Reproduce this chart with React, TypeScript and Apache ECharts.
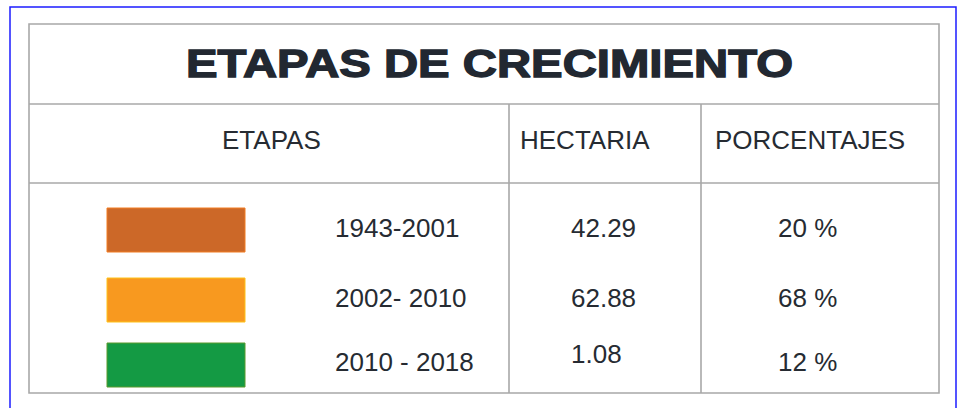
import React, { useEffect, useRef } from "react";
import * as echarts from "echarts";

const title = "ETAPAS DE CRECIMIENTO";
const headers = ["ETAPAS", "HECTARIA", "PORCENTAJES"];
const etapas = ["1943-2001", "2002- 2010", "2010 - 2018"];
const hectaria = ["42.29", "62.88", "1.08"];
const porcentajes = ["20 %", "68 %", "12 %"];
const swatchColors = ["#cc6828", "#f8991f", "#149a44"];
const swatchBorders = ["#f27d22", "#ffc21a", "#5a9a2c"];

// layout
const T = { left: 29, right: 939, top: 24, titleBottom: 104, headBottom: 183, bottom: 393 };
const colX = [509, 701];
const headerX = [222, 520, 715];
const rowY = [227.5, 297.5, 362];
const hectY = [228, 298.3, 354];
const pctY = [228.3, 298, 362];
const swatchY = [208, 278, 343];

export default function App() {
  const ref = useRef<HTMLDivElement>(null);
  useEffect(() => {
    const chart = echarts.init(ref.current!, null, { renderer: "svg" });
    const font = "'Liberation Sans', Arial, sans-serif";
    const textColor = "#262b32";
    const bodyFont = `26px ${font}`;
    const lineStyle = { stroke: "#a8a8a8", lineWidth: 1.6 };
    const els: any[] = [];
    // outer blue frame
    els.push({ type: "rect", shape: { x: 10, y: 7, width: 946, height: 420 }, style: { fill: "#fff", stroke: "#1c1cff", lineWidth: 1.5 } });
    // table border
    els.push({ type: "rect", shape: { x: T.left, y: T.top, width: T.right - T.left, height: T.bottom - T.top }, style: { fill: "none", ...lineStyle } });
    els.push({ type: "line", shape: { x1: T.left, y1: T.titleBottom, x2: T.right, y2: T.titleBottom }, style: lineStyle });
    els.push({ type: "line", shape: { x1: T.left, y1: T.headBottom, x2: T.right, y2: T.headBottom }, style: lineStyle });
    colX.forEach((x) => {
      els.push({ type: "line", shape: { x1: x, y1: T.titleBottom, x2: x, y2: T.bottom }, style: lineStyle });
    });
    // title
    els.push({
      type: "text",
      x: 489.5,
      y: 64,
      scaleX: 1.245,
      style: {
        text: title,
        font: `bold 38px ${font}`,
        fill: "#222831",
        stroke: "#222831",
        lineWidth: 1.3,
        align: "center",
        verticalAlign: "middle",
      },
    });
    headers.forEach((h, i) => {
      els.push({ type: "text", x: headerX[i], y: 139.5, style: { text: h, font: bodyFont, fill: textColor, align: "left", verticalAlign: "middle" } });
    });
    etapas.forEach((e, i) => {
      els.push({
        type: "rect",
        shape: { x: 107, y: swatchY[i], width: 138, height: 44 },
        style: { fill: swatchColors[i], stroke: swatchBorders[i], lineWidth: 1 },
      });
      els.push({ type: "text", x: 335, y: rowY[i], style: { text: e, font: bodyFont, fill: textColor, align: "left", verticalAlign: "middle" } });
      els.push({ type: "text", x: 571, y: hectY[i], style: { text: hectaria[i], font: bodyFont, fill: textColor, align: "left", verticalAlign: "middle" } });
      els.push({ type: "text", x: 778, y: pctY[i], style: { text: porcentajes[i], font: bodyFont, fill: textColor, align: "left", verticalAlign: "middle" } });
    });
    chart.setOption({ animation: false, graphic: { elements: els } });
    return () => chart.dispose();
  }, []);
  return <div ref={ref} style={{ position: "fixed", left: 0, top: 0, width: 958, height: 408, background: "#fff" }} />;
}
